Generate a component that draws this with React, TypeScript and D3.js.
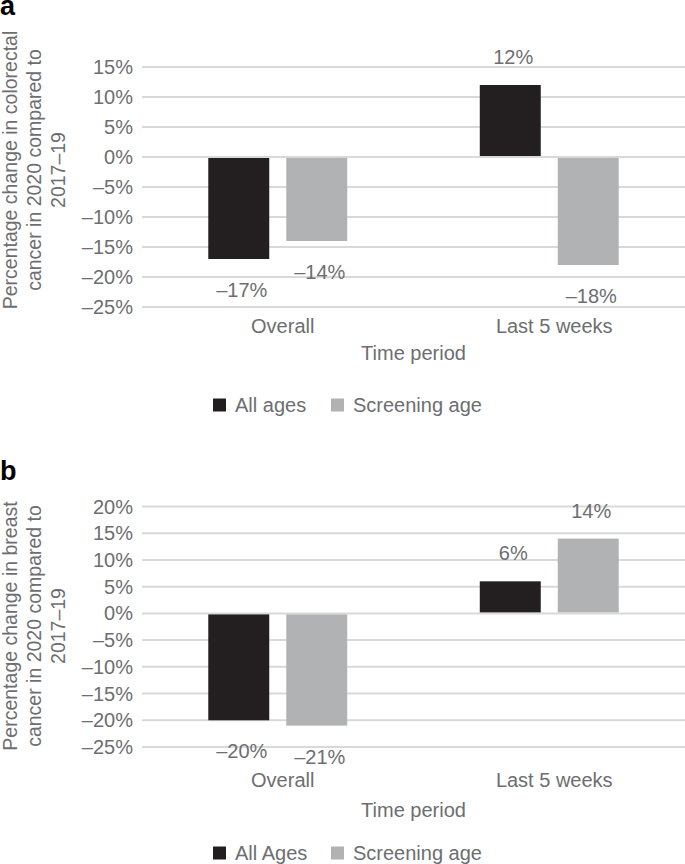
import { useRef, useEffect } from 'react'
import * as d3 from 'd3'

const categories = ['Overall', 'Last 5 weeks']
const colorectalAllAges = [-17, 12]
const colorectalScreening = [-14, -18]
const breastAllAges = [-20, 6]
const breastScreening = [-21, 14]
const colorectalTicks = [15, 10, 5, 0, -5, -10, -15, -20, -25]
const breastTicks = [20, 15, 10, 5, 0, -5, -10, -15, -20, -25]
const legendA = ['All ages', 'Screening age']
const legendB = ['All Ages', 'Screening age']
const colorectalTitle = ['Percentage change in colorectal', 'cancer in 2020 compared to', '2017–19']
const breastTitle = ['Percentage change in breast', 'cancer in 2020 compared to', '2017–19']

const FONT = '"Liberation Sans", Arial, sans-serif'
const TEXT = '#6d6e71'
const GRID = '#d9d9d9'
const COLORS = ['#231f20', '#b1b2b4']

const fmt = (v: number) => (v < 0 ? '–' + Math.abs(v) : String(v)) + '%'

interface PanelOpts {
  letter: string
  letterY: number
  top: number // pixel of 20%
  bottom: number // pixel of -25%
  ticks: number[]
  allAges: number[]
  screening: number[]
  title: string[]
  titleY: number
  catY: number
  axisTitleY: number
  legend: string[]
  legendY: number
}

function drawPanel(svg: d3.Selection<SVGSVGElement, unknown, null, undefined>, o: PanelOpts) {
  const left = 142
  const right = 685
  const g = svg.append('g')

  const x = d3.scaleBand<string>().domain(categories).range([left, right]).padding(0)
  const sub = d3.scaleBand<number>()
    .domain([0, 1])
    .range([0, x.bandwidth()])
    .paddingInner(0.218)
    .paddingOuter(0.85)
  const y = d3.scaleLinear().domain([-25, 20]).range([o.bottom, o.top])

  // panel letter
  g.append('text')
    .attr('x', 0)
    .attr('y', o.letterY)
    .attr('font-family', FONT)
    .attr('font-weight', 'bold')
    .attr('font-size', 27)
    .attr('fill', '#000')
    .text(o.letter)

  // gridlines
  g.selectAll('line.grid')
    .data(o.ticks)
    .enter()
    .append('line')
    .attr('x1', left)
    .attr('x2', right)
    .attr('y1', d => y(d))
    .attr('y2', d => y(d))
    .attr('stroke', GRID)
    .attr('stroke-width', 2)

  // tick labels
  g.selectAll('text.tick')
    .data(o.ticks)
    .enter()
    .append('text')
    .attr('x', 133)
    .attr('y', d => y(d))
    .attr('dy', '0.35em')
    .attr('text-anchor', 'end')
    .attr('font-family', FONT)
    .attr('font-size', 20)
    .attr('fill', TEXT)
    .text(d => fmt(d))

  const series = [o.allAges, o.screening]
  series.forEach((vals, si) => {
    categories.forEach((c, ci) => {
      const v = vals[ci]
      const bx = x(c)! + sub(si)!
      // leave the zero line visible at the bar base
      const y0 = v < 0 ? y(0) + 1 : y(0) - 1
      g.append('rect')
        .attr('x', bx)
        .attr('y', Math.min(y0, y(v)))
        .attr('width', sub.bandwidth())
        .attr('height', Math.abs(y(v) - y0))
        .attr('fill', COLORS[si])

      g.append('text')
        .attr('x', bx + sub.bandwidth() / 2 + 3)
        .attr('y', v < 0 ? y(v) + 31 : y(v) - 28)
        .attr('dy', '0.35em')
        .attr('text-anchor', 'middle')
        .attr('font-family', FONT)
        .attr('font-size', 20)
        .attr('fill', TEXT)
        .text(fmt(v))
    })
  })

  // category labels
  g.selectAll('text.cat')
    .data(categories)
    .enter()
    .append('text')
    .attr('x', d => x(d)! + x.bandwidth() / 2 + 5)
    .attr('y', o.catY)
    .attr('dy', '0.35em')
    .attr('text-anchor', 'middle')
    .attr('font-family', FONT)
    .attr('font-size', 20)
    .attr('fill', TEXT)
    .text(d => d)

  // x axis title
  g.append('text')
    .attr('x', (left + right) / 2)
    .attr('y', o.axisTitleY)
    .attr('dy', '0.35em')
    .attr('text-anchor', 'middle')
    .attr('font-family', FONT)
    .attr('font-size', 20)
    .attr('fill', TEXT)
    .text('Time period')

  // y axis title, three lines
  o.title.forEach((line, i) => {
    g.append('text')
      .attr('transform', `translate(${17 + i * 24},${o.titleY}) rotate(-90)`)
      .attr('text-anchor', 'middle')
      .attr('font-family', FONT)
      .attr('font-size', 19.5)
      .attr('fill', TEXT)
      .text(line)
  })

  // legend
  const legendX = [213, 331]
  o.legend.forEach((name, i) => {
    g.append('rect')
      .attr('x', legendX[i])
      .attr('y', o.legendY - 6.5)
      .attr('width', 13)
      .attr('height', 13)
      .attr('fill', COLORS[i])
    g.append('text')
      .attr('x', legendX[i] + 22)
      .attr('y', o.legendY)
      .attr('dy', '0.35em')
      .attr('font-family', FONT)
      .attr('font-size', 20)
      .attr('fill', TEXT)
      .text(name)
  })
}

function App() {
  const ref = useRef<SVGSVGElement>(null)

  useEffect(() => {
    if (!ref.current) return
    const svg = d3.select(ref.current)
    svg.selectAll('*').remove()

    drawPanel(svg, {
      letter: 'a',
      letterY: 15,
      top: 37,
      bottom: 307,
      ticks: colorectalTicks,
      allAges: colorectalAllAges,
      screening: colorectalScreening,
      title: colorectalTitle,
      titleY: 170,
      catY: 326,
      axisTitleY: 353,
      legend: legendA,
      legendY: 405
    })

    drawPanel(svg, {
      letter: 'b',
      letterY: 480,
      top: 506.5,
      bottom: 747,
      ticks: breastTicks,
      allAges: breastAllAges,
      screening: breastScreening,
      title: breastTitle,
      titleY: 626,
      catY: 780,
      axisTitleY: 810,
      legend: legendB,
      legendY: 853
    })
  }, [])

  return (
    <svg
      ref={ref}
      width={685}
      height={864}
      style={{ position: 'absolute', left: 0, top: 0, background: '#fff' }}
    />
  )
}

export default App
